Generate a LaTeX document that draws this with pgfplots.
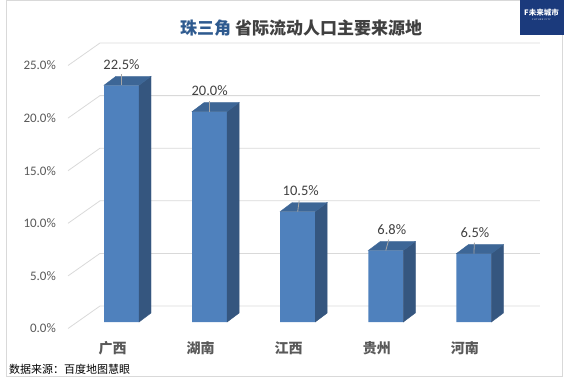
\documentclass[border=0pt]{standalone}
\usepackage{fontspec}
\setmainfont{Carlito}
\newfontfamily\cjk{Noto Sans CJK SC}
\usepackage{pgfplots}
\usepackage{pgfplotstable}
\pgfplotsset{compat=1.18}
\definecolor{frontc}{HTML}{4F81BD}
\definecolor{sidec}{HTML}{35567F}
\definecolor{topc}{HTML}{3D6696}
\definecolor{gridc}{HTML}{D9D9D9}
\definecolor{framec}{HTML}{D9D9D9}
\definecolor{tickc}{HTML}{595959}
\definecolor{labc}{HTML}{595959}
\definecolor{datac}{HTML}{404040}
\definecolor{leaderc}{HTML}{A6A6A6}
\definecolor{titleblue}{HTML}{2E5A8F}
\definecolor{titlegray}{HTML}{404040}
\definecolor{logoc}{HTML}{1B3A7C}
\pgfdeclareplotmark{nomark}{}

\pgfplotstableread{
x v lx
0 22.5 0
1 20.0 0
2 10.5 3
3 6.8 6
4 6.5 1
}\datatable

\begin{document}
\begin{tikzpicture}
\path[use as bounding box] (0,0) rectangle (564pt,381pt);
\draw[framec, line width=0.8pt] (6pt,5pt) rectangle (562pt,380.5pt);
\begin{axis}[
  at={(121.5pt,59pt)}, anchor=origin,
  x=88.1pt, y=10.52pt,
  xmin=-0.743, xmax=4.75, ymin=0, ymax=25,
  enlargelimits=false, clip=false,
  axis line style={draw=none}, major tick length=0pt,
  xtick={0,1,2,3,4}, xticklabels={广西,湖南,江西,贵州,河南},
  xticklabel style={font=\cjk\bfseries\fontsize{14}{14}\selectfont, text=labc, anchor=center, inner sep=0pt, xshift=-9pt, yshift=-26pt},
  ytick={0,5,10,15,20,25},
  yticklabel={\pgfmathprintnumber[fixed,fixed zerofill,precision=1]{\tick}\%},
  yticklabel style={font=\fontsize{13}{13}\selectfont, text=tickc, anchor=east, inner sep=0pt, yshift=-6.5pt},
  /pgf/number format/assume math mode=true,
]
\pgfplotsinvokeforeach{0,5,10,15,20,25}{
  \draw[gridc, line width=0.8pt] ([yshift=-6.5pt]axis cs:-0.607,#1) -- ([yshift=16pt]axis cs:-0.244,#1) -- ([yshift=16pt]axis cs:4.749,#1);
}
\addplot[ybar, bar width=35pt, fill=frontc, draw=none] table[x=x, y=v] {\datatable};
\addplot[scatter, only marks, mark=nomark,
  visualization depends on={\thisrow{v} \as \val},
  visualization depends on={\thisrow{lx} \as \lx},
  scatter/@pre marker code/.code={
    \fill[sidec] (17.5pt,0pt) -- ++(12pt,9pt) -- ++(axis direction cs:0,-\val) -- ++(-12pt,-9pt) -- cycle;
    \fill[topc] (-17.5pt,0pt) -- (17.5pt,0pt) -- ++(12pt,9pt) -- ++(-35pt,0pt) -- cycle;
    \draw[leaderc, line width=0.8pt] (0pt,0pt) -- ({0.5*\lx pt},11pt);
    \node[font=\fontsize{14.5}{14.5}\selectfont, text=datac, inner sep=0pt] at ({\lx pt},21pt) {\pgfmathprintnumber[fixed,fixed zerofill,precision=1]{\val}\%};
  },
  scatter/@post marker code/.code={},
] table[x=x, y=v] {\datatable};
\end{axis}
\node[anchor=center, inner sep=0pt] at (301pt,353pt) {\cjk\bfseries\fontsize{17}{17}\selectfont\textcolor{titleblue}{珠三角}\hspace{4pt}\textcolor{titlegray}{省际流动人口主要来源地}};
\node[anchor=west, inner sep=0pt] at (9pt,12pt) {\cjk\fontsize{11}{11}\selectfont 数据来源：百度地图慧眼};
\fill[logoc] (520pt,346pt) rectangle (563.5pt,381pt);
\node[text=white, inner sep=0pt] at (541.5pt,368pt) {\cjk\bfseries\fontsize{7.5}{7.5}\selectfont F未来城市};
\node[text=white, inner sep=0pt] at (541.5pt,361pt) {\fontsize{2.5}{2.5}\selectfont F U T U R E \ C I T Y};
\end{tikzpicture}
\end{document}
